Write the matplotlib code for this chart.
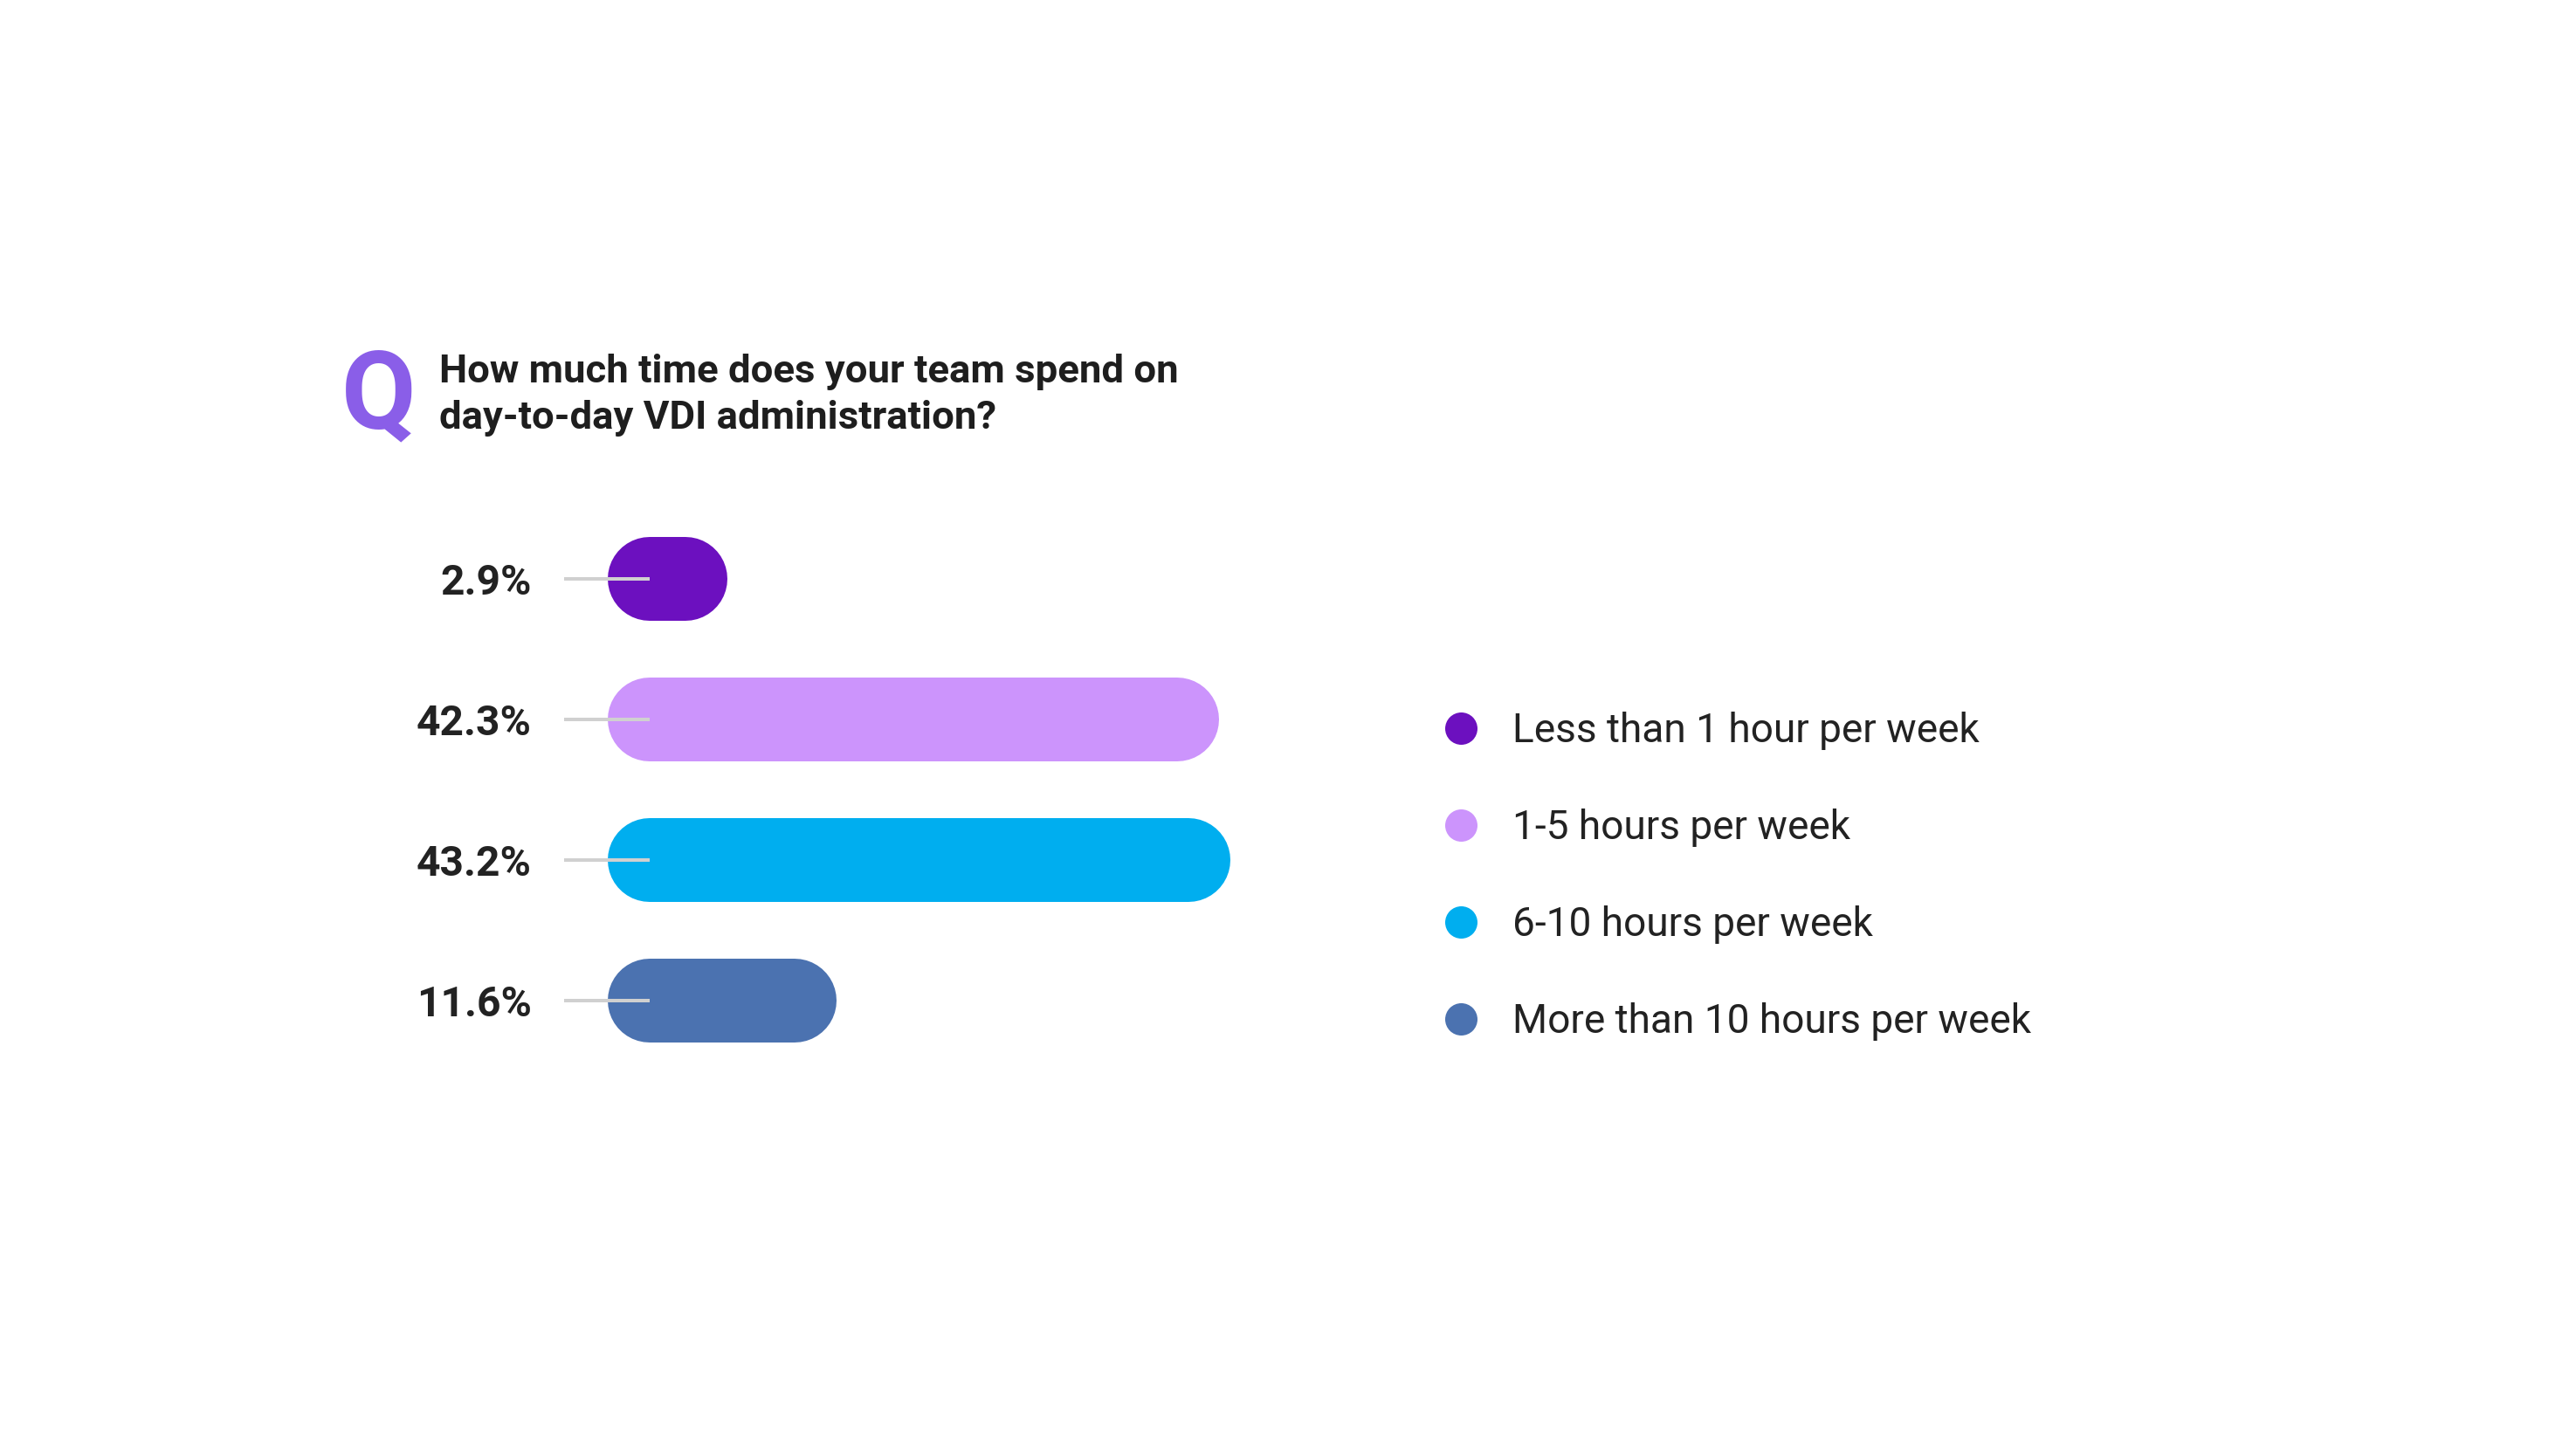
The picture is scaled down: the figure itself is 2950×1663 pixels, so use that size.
import matplotlib
matplotlib.use('Agg')
import matplotlib.pyplot as plt
from matplotlib.lines import Line2D

plt.rcParams['font.family'] = ['Roboto', 'DejaVu Sans']

# data
categories = ['Less than 1 hour per week', '1-5 hours per week',
              '6-10 hours per week', 'More than 10 hours per week']
values = [2.9, 42.3, 43.2, 11.6]
pct_labels = ['2.9%', '42.3%', '43.2%', '11.6%']
colors = ['#6c10bf', '#cc94fc', '#00aeef', '#4b72b0']
title_lines = ['How much time does your team spend on',
               'day-to-day VDI administration?']

W, H = 2950, 1663
fig = plt.figure(figsize=(W / 100, H / 100), dpi=100)
fx = lambda p: p / W
fy = lambda p: 1 - p / H
pt = lambda p: p * 0.72   # pixels -> points at dpi 100

# question heading
fig.text(fx(391), fy(490), 'Q', fontsize=pt(124), fontweight='bold',
         color='#8a5ee8', va='baseline', ha='left')
fig.text(fx(503), fy(438), title_lines[0], fontsize=pt(45.5), fontweight='bold',
         color='#1e1e1e', va='baseline', ha='left')
fig.text(fx(503), fy(491), title_lines[1], fontsize=pt(45.5), fontweight='bold',
         color='#1e1e1e', va='baseline', ha='left')

# bars
px_per_pct = 14.29
ax_w = 800
ax = fig.add_axes([fx(744), fy(1226.5), ax_w / W, 644 / H])
for i, (v, c) in enumerate(zip(values, colors)):
    ax.plot([0, v], [i, i], color=c, lw=pt(96), solid_capstyle='round',
            clip_on=False, zorder=2)
ax.set_xlim(0, ax_w / px_per_pct)
ax.set_ylim(len(values) - 0.5, -0.5)
ax.set_yticks(range(len(values)))
ax.set_yticklabels(pct_labels, fontweight='bold', color='#222222')
ax.tick_params(axis='y', length=pt(98), width=pt(4), color='#d0d0d0',
               pad=pt(37), labelsize=pt(48), direction='out')
ax.tick_params(axis='x', bottom=False, labelbottom=False)
ax.set_axisbelow(False)
for s in ax.spines.values():
    s.set_visible(False)
ax.patch.set_alpha(0)

# legend
handles = [Line2D([], [], ls='', marker='o', markersize=pt(37), color=c,
                  markeredgewidth=0) for c in colors]
fig.legend(handles, categories, loc='upper left',
           bbox_to_anchor=(fx(1655), fy(815)), frameon=False,
           fontsize=pt(46), handlelength=0.8, handletextpad=0.87,
           labelspacing=1.455, borderpad=0, borderaxespad=0, labelcolor='#222222')

fig.savefig('out.png', dpi=100, facecolor='white')
